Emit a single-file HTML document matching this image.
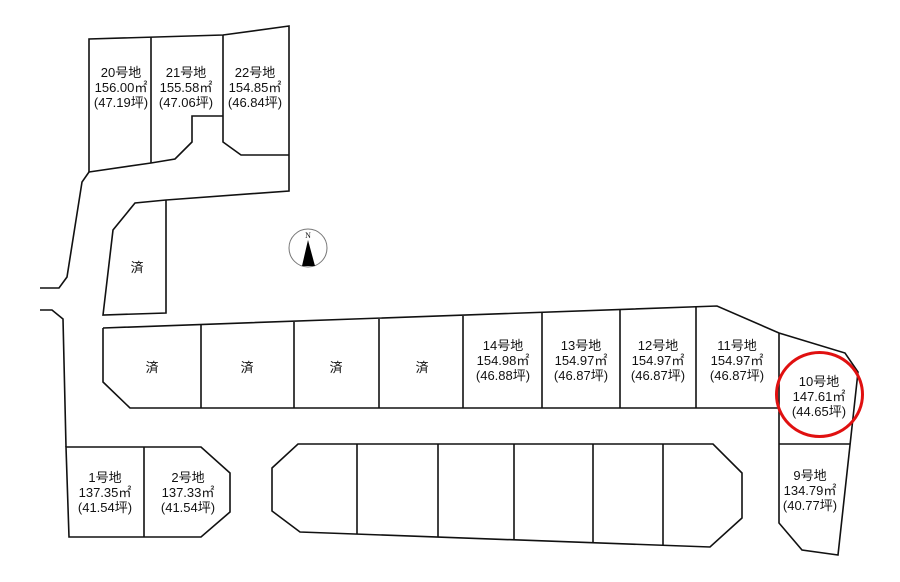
<!DOCTYPE html>
<html><head><meta charset="utf-8"><style>
html,body{margin:0;padding:0;background:#fff;width:900px;height:582px;overflow:hidden}
svg text{font-family:"Liberation Sans","Noto Sans CJK JP",sans-serif;font-size:13px;fill:#111;text-anchor:middle}
</style></head><body>
<svg width="900" height="582" viewBox="0 0 900 582" xmlns="http://www.w3.org/2000/svg">
<g fill="none" stroke="#111" stroke-width="1.6" stroke-linejoin="miter">
<!-- top block -->
<polyline points="89,172 89,39 223,35 289,26 289,191 166,200 135,203 113,230 103,315 166,313 166,200"/>
<line x1="151" y1="37" x2="151" y2="163"/>
<polyline points="89,172 151,163 175,159 192,142 192,116 223,116"/>
<polyline points="223,35 223,142 241,155 289,155"/>
<!-- left road -->
<polyline points="89,172 82,182 67,277 59,288 40,288"/>
<polyline points="40,310 52,310 63,319 66,447"/>
<!-- 1,2 -->
<polygon points="66,447 201,447 230,473 230,512 201,537 69,537"/>
<line x1="144" y1="447" x2="144" y2="537"/>
<!-- long row -->
<polyline points="103,328 717,306 779,333 845,353 858,372 838,555 802,550 779,523 779,333"/>
<polyline points="103,328 103,382 130,408 779,408"/>
<line x1="201" y1="325" x2="201" y2="408"/>
<line x1="294" y1="322" x2="294" y2="408"/>
<line x1="379" y1="319" x2="379" y2="408"/>
<line x1="463" y1="316" x2="463" y2="408"/>
<line x1="542" y1="313" x2="542" y2="408"/>
<line x1="620" y1="310" x2="620" y2="408"/>
<line x1="696" y1="307" x2="696" y2="408"/>
<line x1="779" y1="444" x2="850" y2="444"/>
<!-- bottom octagon -->
<polygon points="272,468 298,444 713,444 742,473 742,518 710,547 300,532 272,511"/>
<line x1="357" y1="444" x2="357" y2="534"/>
<line x1="438" y1="444" x2="438" y2="537"/>
<line x1="514" y1="444" x2="514" y2="540"/>
<line x1="593" y1="444" x2="593" y2="543"/>
<line x1="663" y1="444" x2="663" y2="545"/>
</g>
<ellipse cx="819.5" cy="394.5" rx="43" ry="42" fill="none" stroke="#e01010" stroke-width="3"/>
<!-- compass -->
<circle cx="308" cy="248" r="19" fill="none" stroke="#777" stroke-width="1"/>
<polygon points="308,240 302,266 315,266" fill="#000"/>
<text x="308" y="238" style="font-size:8px;font-family:'Liberation Serif',serif">N</text>
<!-- labels -->
<text x="121" y="77">20号地</text><text x="121" y="92">156.00㎡</text><text x="121" y="107">(47.19坪)</text>
<text x="186" y="77">21号地</text><text x="186" y="92">155.58㎡</text><text x="186" y="107">(47.06坪)</text>
<text x="255" y="77">22号地</text><text x="255" y="92">154.85㎡</text><text x="255" y="107">(46.84坪)</text>
<text x="137" y="272">済</text>
<text x="152" y="372">済</text><text x="247" y="372">済</text><text x="336" y="372">済</text><text x="422" y="372">済</text>
<text x="503" y="350">14号地</text><text x="503" y="365">154.98㎡</text><text x="503" y="380">(46.88坪)</text>
<text x="581" y="350">13号地</text><text x="581" y="365">154.97㎡</text><text x="581" y="380">(46.87坪)</text>
<text x="658" y="350">12号地</text><text x="658" y="365">154.97㎡</text><text x="658" y="380">(46.87坪)</text>
<text x="737" y="350">11号地</text><text x="737" y="365">154.97㎡</text><text x="737" y="380">(46.87坪)</text>
<text x="819" y="386">10号地</text><text x="819" y="401">147.61㎡</text><text x="819" y="416">(44.65坪)</text>
<text x="810" y="480">9号地</text><text x="810" y="495">134.79㎡</text><text x="810" y="510">(40.77坪)</text>
<text x="105" y="482">1号地</text><text x="105" y="497">137.35㎡</text><text x="105" y="512">(41.54坪)</text>
<text x="188" y="482">2号地</text><text x="188" y="497">137.33㎡</text><text x="188" y="512">(41.54坪)</text>
</svg>
</body></html>
